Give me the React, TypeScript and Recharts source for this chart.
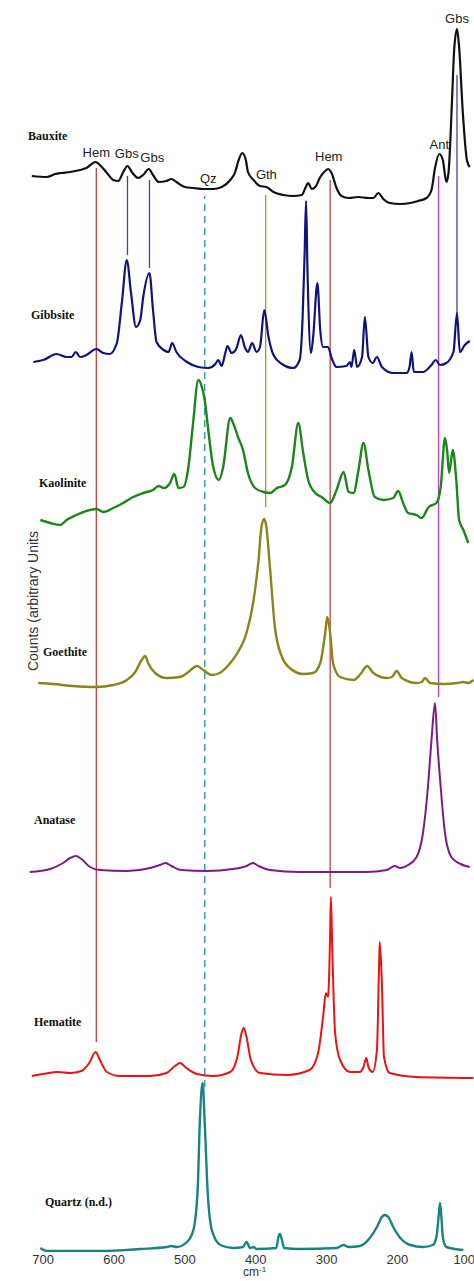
import { LineChart, Line, XAxis, YAxis, ReferenceLine, ReferenceDot } from 'recharts';

// Raman shift (cm-1) and stacked counts (arbitrary units)
const bauxiteShift = [716, 695, 683, 674, 662, 648, 639, 626, 620, 610, 601, 594, 587, 581, 575, 566, 559, 551, 545, 537, 526, 519, 512, 500, 488, 474, 460, 448, 436, 429, 425, 419, 414, 411, 403, 394, 385, 375, 361, 347, 335, 330, 326, 321, 316, 309, 302, 298, 293, 286, 279, 269, 255, 241, 234, 227, 220, 211, 196, 182, 171, 159, 152, 147, 141, 136, 131, 128, 123, 120, 116, 113, 108, 102, 98];
const bauxiteCounts = [1076, 1075, 1078, 1079, 1080, 1082, 1084, 1090, 1087, 1079, 1072, 1071, 1080, 1086, 1080, 1074, 1077, 1083, 1077, 1070, 1071, 1073, 1070, 1065, 1064, 1063, 1063, 1065, 1072, 1080, 1090, 1099, 1092, 1080, 1072, 1066, 1065, 1060, 1057, 1056, 1057, 1064, 1069, 1063, 1065, 1075, 1081, 1083, 1079, 1064, 1056, 1054, 1055, 1054, 1054, 1059, 1053, 1049, 1048, 1049, 1051, 1054, 1062, 1084, 1098, 1092, 1070, 1079, 1152, 1202, 1223, 1205, 1142, 1092, 1085];

const gibbsiteShift = [714, 700, 681, 667, 660, 654, 648, 639, 625, 615, 606, 596, 589, 582, 576, 569, 563, 559, 550, 545, 540, 530, 523, 518, 512, 497, 481, 467, 457, 453, 448, 443, 440, 434, 427, 421, 415, 411, 405, 399, 394, 388, 382, 375, 363, 347, 338, 334, 331, 329, 327, 322, 319, 313, 309, 305, 298, 293, 286, 272, 267, 265, 261, 257, 250, 246, 241, 235, 229, 222, 206, 187, 183, 180, 177, 164, 152, 146, 140, 131, 121, 116, 112, 105, 98];
const gibbsiteCounts = [890, 892, 898, 895, 895, 900, 895, 897, 903, 899, 898, 909, 949, 992, 959, 925, 932, 954, 979, 942, 910, 902, 900, 909, 900, 890, 885, 884, 888, 892, 886, 899, 906, 899, 904, 917, 904, 900, 909, 900, 905, 942, 915, 897, 888, 884, 892, 932, 999, 1051, 982, 899, 915, 969, 922, 905, 905, 894, 885, 886, 890, 885, 902, 885, 895, 935, 895, 889, 895, 885, 879, 879, 885, 900, 880, 880, 887, 892, 887, 889, 900, 939, 900, 907, 911];

const kaoliniteShift = [704, 690, 676, 667, 653, 639, 625, 615, 601, 587, 573, 559, 545, 537, 530, 521, 515, 509, 502, 495, 489, 481, 476, 472, 467, 460, 452, 446, 436, 432, 425, 418, 411, 401, 389, 380, 370, 359, 349, 340, 333, 326, 316, 307, 295, 286, 276, 269, 262, 255, 248, 241, 232, 220, 206, 199, 192, 185, 173, 166, 156, 145, 139, 133, 130, 127, 122, 117, 113, 107, 100];
const kaoliniteCounts = [732, 729, 727, 732, 737, 741, 743, 740, 744, 749, 755, 759, 762, 766, 764, 769, 778, 764, 765, 785, 825, 872, 865, 852, 822, 785, 772, 785, 834, 829, 815, 802, 779, 764, 760, 759, 764, 767, 785, 829, 799, 772, 759, 755, 749, 762, 780, 760, 759, 782, 809, 782, 755, 752, 754, 761, 749, 739, 737, 734, 745, 749, 765, 814, 802, 779, 802, 772, 732, 722, 709];

const goethiteShift = [707, 686, 658, 625, 601, 582, 570, 561, 556, 552, 542, 526, 507, 495, 483, 474, 462, 451, 436, 425, 413, 403, 396, 392, 388, 385, 380, 373, 363, 352, 333, 319, 309, 302, 299, 295, 291, 281, 262, 251, 243, 234, 215, 208, 201, 194, 173, 166, 161, 154, 135, 116, 107, 100, 93];
const goethiteCounts = [569, 568, 566, 565, 567, 572, 580, 592, 596, 589, 579, 574, 575, 580, 586, 582, 577, 579, 589, 600, 619, 652, 692, 725, 733, 725, 685, 625, 595, 584, 578, 579, 589, 619, 635, 619, 589, 575, 572, 579, 586, 579, 574, 575, 581, 574, 569, 570, 574, 569, 568, 569, 570, 569, 572];

const anataseShift = [719, 690, 672, 662, 654, 646, 634, 620, 582, 549, 535, 527, 519, 505, 469, 432, 413, 404, 396, 380, 338, 291, 244, 215, 204, 196, 185, 173, 164, 157, 152, 147, 144, 139, 133, 124, 111, 98];
const anataseCounts = [380, 383, 389, 394, 396, 393, 385, 382, 381, 384, 387, 389, 386, 382, 381, 383, 386, 389, 386, 382, 380, 380, 380, 382, 386, 384, 387, 395, 419, 465, 512, 549, 512, 465, 419, 395, 388, 385];

const hematiteShift = [716, 700, 679, 662, 646, 635, 626, 620, 610, 592, 549, 526, 514, 507, 498, 483, 460, 436, 426, 420, 417, 413, 407, 394, 356, 324, 312, 305, 301, 298, 295, 294, 292, 288, 281, 267, 253, 248, 244, 241, 235, 229, 226, 225, 222, 219, 211, 173, 93];
const hematiteCounts = [176, 178, 180, 179, 181, 189, 200, 192, 180, 176, 176, 179, 186, 189, 184, 178, 176, 180, 195, 219, 224, 215, 192, 179, 177, 182, 199, 235, 259, 255, 319, 355, 302, 219, 192, 180, 180, 185, 194, 185, 180, 202, 285, 310, 269, 195, 179, 175, 174];

const quartzShift = [704, 695, 620, 563, 526, 519, 512, 497, 488, 482, 479, 475, 472, 468, 462, 450, 432, 418, 413, 408, 403, 399, 371, 368, 366, 363, 360, 338, 286, 276, 269, 253, 239, 229, 222, 218, 213, 206, 196, 182, 164, 150, 145, 142, 140, 138, 136, 131, 107];
const quartzCounts = [4, 1, 1, 3, 5, 6, 5, 10, 22, 62, 129, 169, 129, 62, 22, 7, 4, 5, 10, 4, 5, 3, 4, 15, 18, 12, 4, 3, 4, 7, 5, 6, 14, 25, 35, 37, 35, 25, 14, 7, 5, 7, 15, 35, 49, 35, 15, 5, 2];

// peak assignment lines
const markerNames = ['Hem', 'Gbs', 'Gbs', 'Qz', 'Gth', 'Hem', 'Ant', 'Gbs'];
const markerShift = [625, 581, 550, 472, 386, 295, 142, 116];
const markerTop = [1084, 1076, 1072, 1056, 1057, 1072, 1076, 1177];
const markerBottom = [210, 997, 984, 165, 745, 364, 555, 939];
const labelShift = [625, 582, 546, 467, 385, 297, 141, 116];
const labelLevel = [1100, 1099, 1095, 1074, 1078, 1096, 1108, 1234];

const shiftTicks = [700, 600, 500, 400, 300, 200, 100];

const zip = (shift: number[], counts: number[]) => shift.map((w, i) => ({ w, v: counts[i] }));

const spectra = [
  { name: 'Bauxite', data: zip(bauxiteShift, bauxiteCounts), color: '#111111', width: 2.2, left: 28, top: 129 },
  { name: 'Gibbsite', data: zip(gibbsiteShift, gibbsiteCounts), color: '#12127e', width: 2.2, left: 31, top: 308 },
  { name: 'Kaolinite', data: zip(kaoliniteShift, kaoliniteCounts), color: '#1c861c', width: 2.4, left: 39, top: 476 },
  { name: 'Goethite', data: zip(goethiteShift, goethiteCounts), color: '#86861a', width: 2.4, left: 43, top: 645 },
  { name: 'Anatase', data: zip(anataseShift, anataseCounts), color: '#7d1a86', width: 2, left: 34, top: 813 },
  { name: 'Hematite', data: zip(hematiteShift, hematiteCounts), color: '#f01010', width: 2, left: 34, top: 1015 },
  { name: 'Quartz (n.d.)', data: zip(quartzShift, quartzCounts), color: '#17857c', width: 2.4, left: 45, top: 1195 },
];

const markerColors = ['#d83a3a', '#4040b0', '#4040b0', '#3aa0a8', '#9c9c30', '#d83a3a', '#c03cc8', '#4040b0'];

export default function App() {
  return (
    <div style={{ position: 'absolute', left: 0, top: 0, width: 474, height: 1281, background: '#fff', overflow: 'hidden' }}>
      <LineChart width={474} height={1281} margin={{ top: 0, right: 0, bottom: 0, left: 29 }}>
        <XAxis
          dataKey="w"
          type="number"
          domain={[92, 720]}
          reversed
          allowDataOverflow
          ticks={shiftTicks}
          height={29}
          axisLine={false}
          tickLine={false}
          tickSize={0}
          tickMargin={3}
          tick={{ fontSize: 13, fill: '#333', fontFamily: 'Liberation Sans, Arial' }}
        />
        <YAxis type="number" domain={[0, 1252]} hide allowDataOverflow />
        {markerShift.map((w, i) => (
          <ReferenceLine
            key={`m${i}`}
            segment={[{ x: w, y: markerBottom[i] }, { x: w, y: markerTop[i] }]}
            stroke={markerColors[i]}
            strokeWidth={markerNames[i] === 'Qz' ? 1.5 : 1.3}
            strokeDasharray={markerNames[i] === 'Qz' ? '7 5' : undefined}
          />
        ))}
        {spectra.map((s) => (
          <Line
            key={s.name}
            data={s.data}
            dataKey="v"
            type="monotone"
            stroke={s.color}
            strokeWidth={s.width}
            dot={false}
            isAnimationActive={false}
          />
        ))}
        {markerNames.map((n, i) => (
          <ReferenceDot
            key={`l${i}`}
            x={labelShift[i]}
            y={labelLevel[i]}
            r={0}
            fill="none"
            stroke="none"
            label={{ value: n, position: 'center', fontSize: 13, fill: '#222', fontFamily: 'Liberation Sans, Arial' }}
          />
        ))}
      </LineChart>
      {spectra.map((s) => (
        <div
          key={`n${s.name}`}
          style={{
            position: 'absolute',
            left: s.left,
            top: s.top,
            fontFamily: 'Liberation Serif, Times New Roman, serif',
            fontWeight: 'bold',
            fontSize: 12,
            lineHeight: '14px',
            color: '#111',
            whiteSpace: 'nowrap',
          }}
        >
          {s.name}
        </div>
      ))}
      <div
        style={{
          position: 'absolute',
          left: 33 - 80,
          top: 601 - 8,
          width: 160,
          height: 16,
          lineHeight: '16px',
          textAlign: 'center',
          transform: 'rotate(-90deg)',
          fontFamily: 'Liberation Sans, Arial',
          fontSize: 14,
          color: '#333',
          whiteSpace: 'nowrap',
        }}
      >
        Counts (arbitrary Units
      </div>
      <div
        style={{
          position: 'absolute',
          left: 243,
          top: 1266,
          fontFamily: 'Liberation Sans, Arial',
          fontSize: 12,
          lineHeight: '13px',
          color: '#333',
        }}
      >
        cm<sup style={{ fontSize: 8, verticalAlign: 'top', lineHeight: '8px' }}>-1</sup>
      </div>
    </div>
  );
}
